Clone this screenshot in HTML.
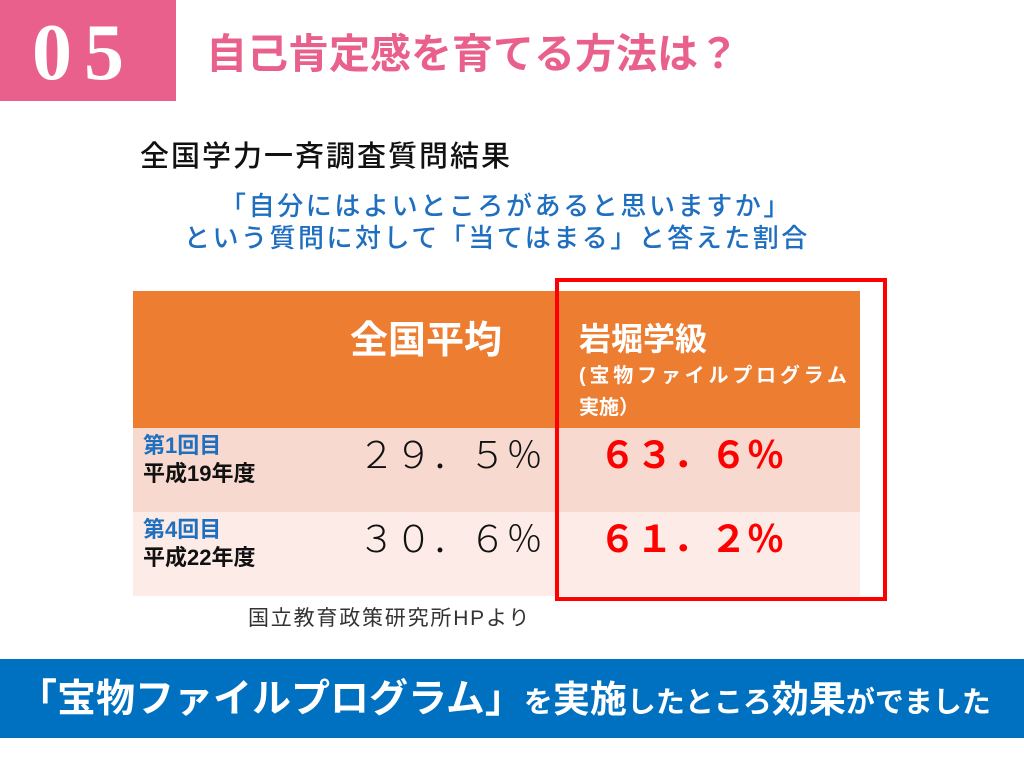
<!DOCTYPE html>
<html><head><meta charset="utf-8"><style>
body{margin:0;width:1024px;height:768px;background:#fff;position:relative;overflow:hidden;font-family:"Liberation Sans","Noto Sans CJK JP",sans-serif;}
div{position:absolute;white-space:nowrap;}
</style></head><body>
<div style="left:0;top:0;width:176px;height:101px;background:#e8608b;"></div>
<div style="left:32px;top:8px;font-family:'Liberation Serif',serif;font-weight:bold;font-size:80px;color:#fff;letter-spacing:12px;line-height:90px;">05</div>
<div style="left:206px;top:26px;font-size:41px;font-weight:bold;color:#e8608b;line-height:56px;letter-spacing:0px;">自己肯定感を育てる方法は？</div>

<div style="left:140px;top:139px;font-size:29px;color:#111;line-height:36px;letter-spacing:2px;font-weight:500;">全国学力一斉調査質問結果</div>
<div style="left:220px;top:189px;font-size:26px;color:#1f6fc0;line-height:34px;font-weight:500;letter-spacing:2.6px;">「自分にはよいところがあると思いますか」</div>
<div style="left:184px;top:221px;font-size:26px;color:#1f6fc0;line-height:34px;font-weight:500;letter-spacing:2.5px;">という質問に対して「当てはまる」と答えた割合</div>

<div style="left:133px;top:291px;width:727px;height:137px;background:#ed7d31;"></div>
<div style="left:133px;top:428px;width:727px;height:84px;background:#f8d9cf;"></div>
<div style="left:133px;top:512px;width:727px;height:84px;background:#fcebe6;"></div>

<div style="left:350px;top:317px;font-size:38px;font-weight:bold;color:#fff;line-height:48px;">全国平均</div>
<div style="left:579px;top:318px;font-size:32px;font-weight:bold;color:#fff;line-height:42px;">岩堀学級</div>
<div style="left:579px;top:362px;font-size:20px;font-weight:bold;color:#fff;line-height:28px;letter-spacing:3.8px;">(宝物ファイルプログラム</div>
<div style="left:579px;top:394px;font-size:20px;font-weight:bold;color:#fff;line-height:28px;">実施）</div>

<div style="left:143px;top:432px;font-size:22px;font-weight:bold;color:#1f6fc0;line-height:28px;">第1回目</div>
<div style="left:143px;top:460px;font-size:22px;font-weight:bold;color:#111;line-height:28px;">平成19年度</div>
<div style="left:143px;top:516px;font-size:22px;font-weight:bold;color:#1f6fc0;line-height:28px;">第4回目</div>
<div style="left:143px;top:544px;font-size:22px;font-weight:bold;color:#111;line-height:28px;">平成22年度</div>

<div style="left:358px;top:433px;font-size:37px;color:#111;line-height:46px;font-weight:300;">２９．５％</div>
<div style="left:358px;top:517px;font-size:37px;color:#111;line-height:46px;font-weight:300;">３０．６％</div>
<div style="left:599px;top:433px;font-size:37px;color:#f00;line-height:46px;font-weight:bold;">６３．６％</div>
<div style="left:599px;top:517px;font-size:37px;color:#f00;line-height:46px;font-weight:bold;">６１．２％</div>

<div style="left:555px;top:278px;width:324px;height:315px;border:4px solid #f00;"></div>

<div style="left:248px;top:605px;font-size:21px;color:#333;line-height:28px;letter-spacing:1.8px;">国立教育政策研究所HPより</div>

<div style="left:0;top:659px;width:1024px;height:79px;background:#0070c0;"></div>
<div style="left:18px;top:676px;color:#fff;font-weight:bold;line-height:48px;"><span style="font-size:39px;">「宝物ファイルプログラム」</span><span style="font-size:29px;">を</span><span style="font-size:37px;">実施</span><span style="font-size:29px;">したところ</span><span style="font-size:37px;">効果</span><span style="font-size:29px;">がでました</span></div>
</body></html>
